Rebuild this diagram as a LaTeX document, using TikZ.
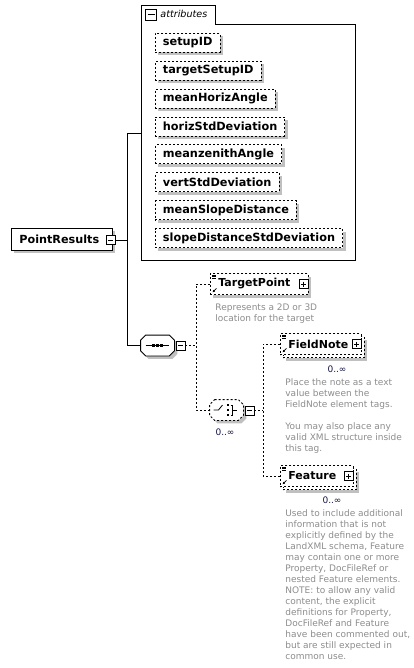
\documentclass[tikz,border=0pt]{standalone}
\usepackage{fontspec}
\setmainfont{DejaVu Sans}
\usetikzlibrary{positioning,shadows,arrows.meta}

\definecolor{shadegray}{RGB}{192,192,192}
\definecolor{notegray}{RGB}{140,140,140}
\definecolor{multcol}{RGB}{20,20,70}

% octagon frame round a compositor node
\newcommand*{\compframe}[2]{%
	\draw[fill=white,boxshadow,#2]
		([xshift=5pt]#1.north west) -- ([xshift=-5pt]#1.north east)
		-- ([yshift=-5pt]#1.north east) -- ([yshift=5pt]#1.south east)
		-- ([xshift=-5pt]#1.south east) -- ([xshift=5pt]#1.south west)
		-- ([yshift=5pt]#1.south west) -- ([yshift=-5pt]#1.north west) -- cycle;}

\begin{document}
\begin{tikzpicture}
[
	x=1pt,y=-1pt,line width=0.8pt,
	dotline/.style={dash pattern=on 2pt off 2pt},
	boxshadow/.style={drop shadow={shadow xshift=3pt,shadow yshift=-3pt,fill=shadegray,opacity=1}},
	attr/.style={draw,dotline,fill=white,boxshadow,anchor=west,inner xsep=7.5pt,inner ysep=0pt,minimum height=19pt,font=\fontsize{11.3}{13}\selectfont\bfseries},
	elem/.style={draw,dotline,fill=white,anchor=west,inner xsep=8pt,inner ysep=0pt,minimum height=21pt,align=left,font=\fontsize{11}{13}\selectfont\bfseries},
	elemback/.style={draw,dotline,fill=white,boxshadow,anchor=west,inner sep=0pt,minimum height=21pt},
	compositor/.style={inner sep=0pt,minimum width=33pt,minimum height=20pt},
	minusbox/.style={draw,fill=white,minimum size=9pt,inner sep=0pt,
		path picture={\draw ([xshift=2pt]path picture bounding box.west) -- ([xshift=-2pt]path picture bounding box.east);}},
	plusbox/.style={draw,fill=white,minimum size=9pt,inner sep=0pt,
		path picture={\draw ([xshift=2pt]path picture bounding box.west) -- ([xshift=-2pt]path picture bounding box.east);
		\draw ([yshift=-2pt]path picture bounding box.north) -- ([yshift=2pt]path picture bounding box.south);}},
	note/.style={anchor=north west,align=left,inner sep=0pt,text=notegray,font=\fontsize{9}{11}\selectfont},
	mult/.style={inner sep=0pt,text=multcol,font=\fontsize{9}{10}\selectfont}
]

	\useasboundingbox (0,0) rectangle (414,668);

	% attributes group
	\draw (141,260) -- (141,5) -- (215,5) -- (215,24) -- (355,24) -- (355,260) -- cycle;
	\node[minusbox,minimum size=11pt] (tabm) at (151,14.5) {};
	\node[anchor=base west,inner sep=0pt,font=\fontsize{9.6}{11}\selectfont\itshape] (tabl) at (160,18) {attributes};
	\coordinate (attrW) at (141,133);

	\foreach \nm [count=\i from 0] in {setupID,targetSetupID,meanHorizAngle,horizStdDeviation,meanzenithAngle,vertStdDeviation,meanSlopeDistance,slopeDistanceStdDeviation}
		\node[attr] (a\i) at (155,{42.8+27.9*\i}) {\nm};

	% root element
	\node[draw,fill=white,boxshadow,anchor=west,inner xsep=8pt,inner ysep=0pt,minimum height=22pt,
		text width=85pt,align=left,font=\fontsize{11.2}{13}\selectfont\bfseries] (res) at (11,239) {PointResults};
	\node[minusbox] (resm) at (110.5,240) {};

	% sequence
	\node[compositor] (seq) at (157.5,345.5) {};
	\compframe{seq}{}
	\draw ([xshift=5pt]seq.west) -- ([xshift=-5pt]seq.east);
	\foreach \d in {-4,0,4}
		\fill ([xshift=\d pt]seq.center) ++(-1.3,-1.3) rectangle ++(2.6,2.6);
	\node[minusbox] (seqm) at (180.5,345.5) {};

	\coordinate (spineT) at (127,133);
	\coordinate (spineB) at (127,345.5);
	\draw (resm.east) -- (127,240);
	\draw (attrW) -- (spineT) -- (spineB) -- (seq.west);

	% choice
	\node[compositor] (cho) at (226.5,410) {};
	\compframe{cho}{dotline}
	\draw ([shift={(-13,0)}]cho.center) -- ++(5,0) -- ++(4,-5);
	\foreach \d in {-5,0,5}
		\fill ([shift={(1.5,\d)}]cho.center) ++(-1.3,-1.3) rectangle ++(2.6,2.6);
	\draw ([shift={(4,-5)}]cho.center) -- ++(1.5,0) -- ++(0,10) -- ++(-1.5,0);
	\draw ([shift={(5.5,0)}]cho.center) -- ++(5,0);
	\node[minusbox] (chom) at (249.5,410.5) {};
	\node[mult] (chomult) at (225,432) {0..∞};

	% TargetPoint
	\node[elem,boxshadow,text width=82pt] (tp) at (210,284) {TargetPoint};
	\node[plusbox] (tpp) at ([xshift=-5pt]tp.east) {};
	\node[note] (tpn) at (215,303.2) {Represents a 2D or 3D\\location for the target};

	% FieldNote
	\node[elemback,minimum width=81pt] (fnb) at (283,347) {};
	\node[elem,text width=65pt] (fn) at (280,344) {FieldNote};
	\node[plusbox] (fnp) at ([xshift=-5pt]fn.east) {};
	\node[mult] (fnmult) at (337,369) {0..∞};
	\node[note] (fnn) at (285,378.2) {Place the note as a text\\value between the\\FieldNote element tags.\\[11pt]You may also place any\\valid XML structure inside\\this tag.};

	% Feature
	\node[elemback,minimum width=73pt] (ftb) at (283,479) {};
	\node[elem,text width=57pt] (ft) at (280,476) {Feature};
	\node[plusbox] (ftp) at ([xshift=-5pt]ft.east) {};
	\node[mult] (ftmult) at (332,500) {0..∞};
	\node[note] (ftn) at (285,509.7) {Used to include additional\\information that is not\\explicitly defined by the\\LandXML schema, Feature\\may contain one or more\\Property, DocFileRef or\\nested Feature elements.\\NOTE: to allow any valid\\content, the explicit\\definitions for Property,\\DocFileRef and Feature\\have been commented out,\\but are still expected in\\common use.};

	% element icons
	\foreach \e in {tp,fn,ft}{
		\foreach \k in {2,3.5,5}
			\draw[line width=0.5pt] ([shift={(2,\k)}]\e.north west) -- ++(4,0);
		\draw[line width=0.6pt,{Latex[length=2.5pt,width=2.5pt]}-] ([shift={(2.5,-2.5)}]\e.south west) -- ++(4,-4);
	}

	% dashed connectors
	\coordinate (sJ) at (196,345.5);
	\coordinate (cJ) at (263,410.5);
	\draw[dotline] (seqm.east) -- (sJ);
	\draw[dotline] (tp.west) -| (sJ) |- (cho.west);
	\draw[dotline] (chom.east) -- (cJ);
	\draw[dotline] (fn.west) -| (cJ) |- (ft.west);

\end{tikzpicture}
\end{document}
